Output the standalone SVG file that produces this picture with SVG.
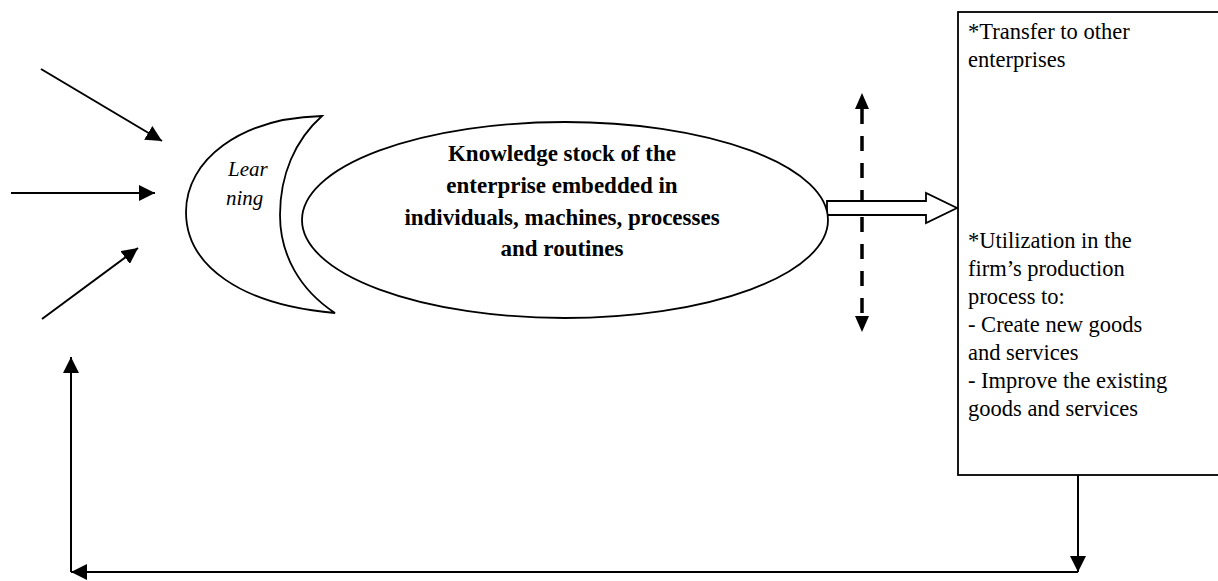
<svg xmlns="http://www.w3.org/2000/svg" width="1218" height="581" viewBox="0 0 1218 581">
  <style>
    .ln { stroke: #000; stroke-width: 2; fill: none; }
    .shape { stroke: #000; stroke-width: 1.8; fill: #fff; }
    .t { font-family: "Liberation Serif", "Times New Roman", serif; font-size: 22.5px; fill: #000; }
    .b { font-family: "Liberation Serif", "Times New Roman", serif; font-size: 23px; font-weight: bold; fill: #000; text-anchor: middle; }
    .i { font-family: "Liberation Serif", "Times New Roman", serif; font-size: 21px; font-style: italic; fill: #000; }
  </style>
  <defs>
    <marker id="ahb" viewBox="0 0 10 10" refX="10" refY="5" markerWidth="8" markerHeight="8" orient="auto">
      <path d="M0,0 L10,5 L0,10 Z" fill="#000"/>
    </marker>
  </defs>

  <g id="connectors">
    <line class="ln" x1="41" y1="69" x2="162" y2="141" marker-end="url(#ahb)"/>
    <line class="ln" x1="11" y1="193" x2="155" y2="193" marker-end="url(#ahb)"/>
    <line class="ln" x1="42" y1="319" x2="138" y2="248" marker-end="url(#ahb)"/>
    <line class="ln" x1="1078" y1="475" x2="1078" y2="572" marker-end="url(#ahb)"/>
    <line class="ln" x1="1078" y1="572" x2="71" y2="572" marker-end="url(#ahb)"/>
    <line class="ln" x1="71" y1="572" x2="71" y2="357" marker-end="url(#ahb)"/>
    <g id="dashed-double-arrow">
      <line x1="862" y1="109" x2="862" y2="316" stroke="#000" stroke-width="3.5" stroke-dasharray="15 12"/>
      <path d="M862,93 L855,109 L869,109 Z" fill="#000"/>
      <path d="M862,332 L855,316 L869,316 Z" fill="#000"/>
    </g>
    <path id="block-arrow" class="shape" d="M827,201 L926,201 L926,193 L957,208 L926,223 L926,215 L827,215 Z"/>
  </g>

  <g id="learning">
    <path class="shape" d="M322,116 C240,118 186,160 186,212 C186,265 240,305 335,313 C300,290 280,255 280,215 C280,175 295,140 322,116 Z"/>
    <text class="i" x="228" y="176">Lear</text>
    <text class="i" x="226" y="205">ning</text>
  </g>

  <g id="knowledge-stock">
    <ellipse class="shape" cx="565" cy="220" rx="263" ry="98"/>
    <text class="b" x="562" y="161">Knowledge stock of the</text>
    <text class="b" x="562" y="193">enterprise embedded in</text>
    <text class="b" x="562" y="225">individuals, machines, processes</text>
    <text class="b" x="562" y="256">and routines</text>
  </g>

  <g id="outcomes">
    <rect class="shape" x="958" y="12" width="280" height="463"/>
    <text class="t" x="968" y="39">*Transfer to other</text>
    <text class="t" x="968" y="67">enterprises</text>
    <text class="t" x="968" y="248">*Utilization in the</text>
    <text class="t" x="968" y="276">firm’s production</text>
    <text class="t" x="968" y="304">process to:</text>
    <text class="t" x="968" y="332">- Create new goods</text>
    <text class="t" x="968" y="360">and services</text>
    <text class="t" x="968" y="388">- Improve the existing</text>
    <text class="t" x="968" y="416">goods and services</text>
  </g>
</svg>
